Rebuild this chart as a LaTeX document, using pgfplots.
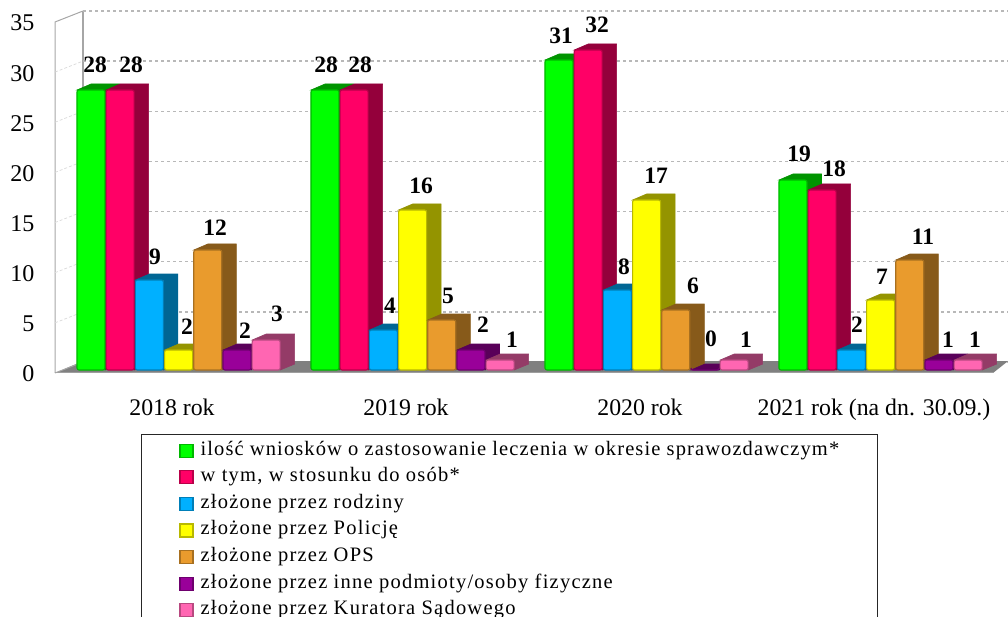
\documentclass[border=0pt]{standalone}
\usepackage{fontspec}
\setmainfont{Liberation Serif}
\newfontfamily\legf[LetterSpace=6.0]{Liberation Serif}
\newfontfamily\legfa[LetterSpace=5.4]{Liberation Serif}
\usepackage{pgfplots}
\pgfplotsset{compat=1.18}
\usetikzlibrary{plotmarks}
\definecolor{cGreen}{HTML}{00FF00}
\definecolor{cRed}{HTML}{FF0066}
\definecolor{cBlue}{HTML}{00B0FF}
\definecolor{cYellow}{HTML}{FFFF00}
\definecolor{cOrange}{HTML}{E99B2D}
\definecolor{cPurple}{HTML}{990099}
\definecolor{cPink}{HTML}{FF66B2}
\pgfdeclareplotmark{box3d}{%
  \pgfmathsetmacro\bL{\xs}%
  \pgfmathsetmacro\bR{\xs+28}%
  \pgfmathsetmacro\bLd{\xs+14}%
  \pgfmathsetmacro\bRd{\xs+42.5}%
  \pgfmathsetmacro\bB{-10*\vv}%
  \pgfmathsetmacro\bBd{-10*\vv+6}%
  \pgfsetcornersarced{\pgfqpoint{2pt}{2pt}}%
  \pgfpathmoveto{\pgfpoint{\bL pt}{0pt}}%
  \pgfpathlineto{\pgfpoint{\bLd pt}{6pt}}%
  \pgfpathlineto{\pgfpoint{\bRd pt}{6pt}}%
  \pgfpathlineto{\pgfpoint{\bRd pt}{\bBd pt}}%
  \pgfpathlineto{\pgfpoint{\bR pt}{\bB pt}}%
  \pgfpathlineto{\pgfpoint{\bR pt}{0pt}}%
  \pgfpathclose
  \pgfusepathqfillstroke}
% #1 colour, #2 left edge of the front face relative to the group centre, #3 data, #4 legend text
\newcommand\series[4]{%
  \addplot[forget plot, only marks, scatter, mark=box3d, mark size=1pt,
    point meta=y,
    scatter/use mapped color={draw=#1!58!black, fill=#1!58!black},
    line width=0.6pt,
    visualization depends on={y \as \vv},
    visualization depends on={value #2 \as \xs}]
    coordinates {#3};
  \pgfmathsetmacro\thisshift{#2+14}%
  \edef\doplot{\noexpand\addplot[ybar, bar width=28pt, bar shift=\thisshift pt,
    draw=#1!72!black, fill=#1, line width=1.1pt, rounded corners=2pt,
    legend image code/.code={\noexpand\fill[sharp corners, fill=#1] (0pt,-6.5pt) rectangle (13pt,6.5pt);}]}%
  \doplot coordinates {#3};
  \addlegendentry{#4}%
}
\newcommand\vlab[3]{\node[inner sep=0pt,font=\fontsize{23.5}{26}\selectfont\bfseries] at (#1,616-#2) {#3};}
\begin{document}
\begin{tikzpicture}[x=1pt,y=1pt]
\path[use as bounding box] (0,0) rectangle (1008,616);
\clip (0,0) rectangle (1008,616);
% side wall
\draw[color=black!35, line width=1pt] (55,243) -- (55,594) -- (83,605);
\draw[color=black!35, line width=1.6pt] (83,254) -- (83,605);
\foreach \v in {5,10,...,30}{
  \draw[color=black!15, line width=0.7pt, dash pattern=on 3pt off 2pt] (55,243+10.03*\v) -- (83,254+10.03*\v);
}
% back wall and grid, with the value ticks
\begin{axis}[at={(83pt,254pt)}, anchor=south west, scale only axis,
  width=925pt, height=351pt, xmin=0, xmax=1, ymin=0, ymax=35,
  ytick={0,5,...,35}, xtick=\empty,
  axis line style={draw=none},
  major tick length=0pt,
  ymajorgrids, grid style={draw=black!28, line width=1.3pt, dash pattern=on 3pt off 3pt},
  /pgf/number format/assume math mode=true,
  tick label style={font=\fontsize{24}{26}\selectfont},
  yticklabel style={inner sep=0pt, anchor=east, xshift=-48.5pt, yshift=-12pt},
  clip=false]
\end{axis}
% floor
\fill[color=black!50] (55,243) -- (83,254.9) -- (1008,254.9) -- (993,243) -- cycle;
\draw[color=black!38, line width=1pt] (55,243) -- (993,243);
\draw[color=black!35, line width=1pt] (55,243) -- (83,254);
% bars
\begin{axis}[at={(0pt,243pt)}, anchor=south west, scale only axis,
  width=1008pt, height=373pt,
  xmin=-0.73504, xmax=3.57265, ymin=-0.3, ymax=37,
  axis line style={draw=none}, major tick length=0pt,
  ytick=\empty, xtick={0,1,2,3},
  xticklabels={2018 rok, 2019 rok, 2020 rok, {2021 rok (na dn. 30.09.)}},
  xticklabel style={font=\fontsize{23.8}{26}\selectfont, inner sep=0pt, anchor=base},
  x tick label style={yshift=-42pt},
  clip=true, clip mode=global, clip marker paths=true,
  legend style={at={(141/1008,-60.7/373)}, anchor=north west,
    draw=black!85, line width=1pt, fill=white,
    inner xsep=38pt, inner ysep=7pt,
    font=\legf\fontsize{20.5}{24}\selectfont,
    nodes={inner sep=0pt, text height=14pt, text depth=5pt},
    /tikz/column sep=7pt, /tikz/row sep=7.6pt},
  legend cell align=left]
\series{cGreen}{-95}{(0,28)(1,28)(2,31)(3,19)}{\legfa\fontsize{20.5}{24}\selectfont ilość wniosków o zastosowanie leczenia w okresie sprawozdawczym*\hspace{3pt}}
\series{cRed}{-65.8}{(0,28)(1,28)(2,32)(3,18)}{w tym, w stosunku do osób*}
\series{cBlue}{-36.6}{(0,9)(1,4)(2,8)(3,2)}{złożone przez rodziny}
\series{cYellow}{-7.4}{(0,2)(1,16)(2,17)(3,7)}{złożone przez Policję}
\series{cOrange}{21.8}{(0,12)(1,5)(2,6)(3,11)}{złożone przez OPS}
\series{cPurple}{51}{(0,2)(1,2)(2,0)(3,1)}{złożone przez inne podmioty/osoby fizyczne}
\series{cPink}{80.2}{(0,3)(1,1)(2,1)(3,1)}{złożone przez Kuratora Sądowego}
\end{axis}
% value labels
\vlab{95}{65}{28}\vlab{131}{65}{28}\vlab{155}{257}{9}\vlab{187}{327}{2}\vlab{215}{228}{12}\vlab{245}{331}{2}\vlab{277}{314}{3}
\vlab{326}{65}{28}\vlab{360}{65}{28}\vlab{390}{306}{4}\vlab{421}{186}{16}\vlab{448}{296}{5}\vlab{483}{325}{2}\vlab{512}{340}{1}
\vlab{561}{36}{31}\vlab{597}{25}{32}\vlab{624}{267}{8}\vlab{656}{176}{17}\vlab{693}{286}{6}\vlab{711}{339}{0}\vlab{746}{340}{1}
\vlab{799}{154}{19}\vlab{834}{169}{18}\vlab{857}{325}{2}\vlab{882}{277}{7}\vlab{923}{237}{11}\vlab{948}{340}{1}\vlab{975}{340}{1}
\end{tikzpicture}
\end{document}
